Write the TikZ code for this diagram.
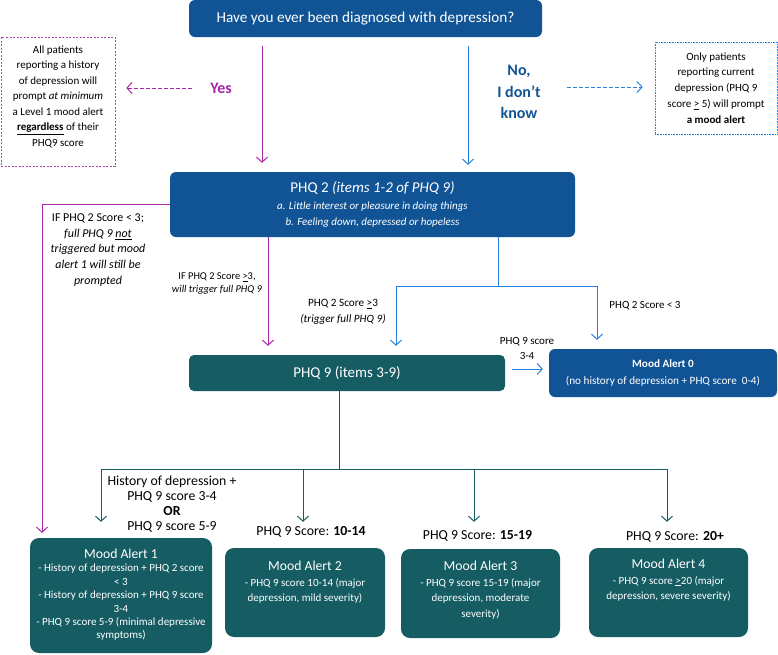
\documentclass[tikz,border=0pt]{standalone}
\usepackage{fontspec}
\setmainfont{Carlito}
\usetikzlibrary{arrows.meta, positioning}
\definecolor{qblue}{RGB}{17,84,150}
\definecolor{qteal}{RGB}{22,92,99}
\definecolor{qmagenta}{RGB}{166,38,164}
\definecolor{qlight}{RGB}{40,128,220}
\newcommand{\fs}[2]{\fontsize{#1}{#2}\selectfont}
\tikzset{
    bluebox/.style = {rectangle, fill=qblue, rounded corners=0.6em, text=white, inner sep=0em},
    tealbox/.style = {rectangle, fill=qteal, rounded corners=0.9em, text=white, inner sep=0em},
    notebox/.style = {rectangle, line width=0.7pt, inner sep=0em},
    textnode/.style = {draw=none, fill=none, rectangle, inner sep=0em},
    yesline/.style = {qmagenta, line width=1pt, -{Straight Barb[length=5pt,width=11pt]}},
    noline/.style = {qlight, line width=1pt, -{Straight Barb[length=5pt,width=11pt]}},
    tealline/.style = {qteal, line width=1pt, -{Straight Barb[length=5pt,width=11pt]}},
    every text node part/.style={align=center}
}

\begin{document}
\begin{tikzpicture}[x=1pt, y=-1pt]
\useasboundingbox (0,0) rectangle (778,654);

\node [bluebox, name=Question, minimum width=353pt, minimum height=37pt, font=\fs{15.2}{18}] at (365.5,18.5)
{Have you ever been diagnosed with depression?};

\node [notebox, name=LeftNote, draw=qmagenta!85, dash pattern=on 2pt off 1.5pt, minimum width=114pt, minimum height=129pt] at (58,101.5) {};
\node [textnode, name=LeftText, font=\fs{11}{15.5}] at ([yshift=5pt]LeftNote.center)
{All patients\\reporting a history\\of depression will\\prompt \textit{at minimum}\\a Level 1 mood alert\\\textbf{\underline{regardless}} of their\\PHQ9 score};

\node [notebox, name=RightNote, draw=qlight, dash pattern=on 0.8pt off 0.8pt, minimum width=122pt, minimum height=92pt, font=\fs{11}{15.8}] at (716,88)
{Only patients\\reporting current\\depression (PHQ 9\\score \underline{>} 5) will prompt\\\textbf{a mood alert}};

\node [textnode, name=Yes, text=qmagenta, font=\bfseries\fs{16}{18}] at (221,88) {Yes};
\node [textnode, name=NoLabel, text=qblue, font=\bfseries\fs{16}{21.5}, align=left] at (519,92) {No,\\I don’t\\know};

\node [bluebox, name=PHQ2, minimum width=405pt, minimum height=65pt, font=\itshape\fs{11}{16.5}] at (372.5,204.5)
{{\upshape\fs{15}{17}PHQ 2 \textit{(items 1-2 of PHQ 9)}}\\a. Little interest or pleasure in doing things\\b. Feeling down, depressed or hopeless};

\node [tealbox, name=PHQ9, minimum width=316pt, minimum height=36pt, rounded corners=0.5em, font=\fs{15}{17}] at (347,373)
{PHQ 9 (items 3-9)};
\node [bluebox, name=Alert0, minimum width=228pt, minimum height=48pt, font=\fs{11.2}{17}] at (663,373)
{\textbf{Mood Alert 0}\\(no history of depression + PHQ score\ \ 0-4)};

\draw[yesline, shorten <=9pt, shorten >=9pt] ([xshift=-103.5pt]Question.south) -- ([xshift=-103.5pt]Question.south |- PHQ2.north);
\draw[noline, shorten <=9pt, shorten >=7pt] ([xshift=102.5pt]Question.south) -- ([xshift=102.5pt]Question.south |- PHQ2.north);
\draw[yesline, dash pattern=on 4pt off 2pt, shorten <=18pt, shorten >=11pt] (Yes.west) -- (Yes.west -| LeftNote.east);
\draw[noline, dash pattern=on 4pt off 2pt, shorten <=26pt, shorten >=12pt] ([yshift=5pt]NoLabel.east) -- ([yshift=5pt]NoLabel.east -| RightNote.west);

\node [textnode, name=IfLow, font=\fs{12}{15.6}] at (98,250)
{IF PHQ 2 Score < 3;\\\textit{full PHQ 9 \underline{not}}\\\textit{triggered but mood}\\\textit{alert 1 will still be}\\\textit{prompted}};
\node [textnode, name=IfHigh, font=\fs{10.4}{13}] at (217,284)
{IF PHQ 2 Score \underline{>}3,\\\textit{will trigger full PHQ 9}};
\node [textnode, name=HighScore, font=\fs{11.2}{16}] at (343,312)
{PHQ 2 Score \underline{>}3\\\textit{(trigger full PHQ 9)}};
\node [textnode, name=LowScore, font=\fs{11}{12}] at (645,306) {PHQ 2 Score < 3};
\node [textnode, name=LowNine, font=\fs{11}{15}] at (527,348) {PHQ 9 score\\3-4};

\node [tealbox, name=Alert1, minimum width=182pt, minimum height=115pt] at (121,595.5) {};
\node [tealbox, name=Alert2, minimum width=160pt, minimum height=89pt] at (305,592.5) {};
\node [tealbox, name=Alert3, minimum width=159pt, minimum height=89pt] at (480.5,593.5) {};
\node [tealbox, name=Alert4, minimum width=159pt, minimum height=89pt] at (668.5,592.5) {};

\node [textnode, name=Alert1Text, text=white, font=\fs{11}{13.4}, below=11pt of Alert1.north]
{{\fs{13.7}{15}Mood Alert 1}\\- History of depression + PHQ 2 score\\< 3\\- History of depression + PHQ 9 score\\3-4\\- PHQ 9 score 5-9 (minimal depressive\\symptoms)};
\node [textnode, name=Alert2Text, text=white, font=\fs{11}{15.5}, below=13pt of Alert2.north]
{{\fs{13.7}{17}Mood Alert 2}\\- PHQ 9 score 10-14 (major\\depression, mild severity)};
\node [textnode, name=Alert3Text, text=white, font=\fs{11}{15.5}, below=12pt of Alert3.north]
{{\fs{13.7}{17}Mood Alert 3}\\- PHQ 9 score 15-19 (major\\depression, moderate\\severity)};
\node [textnode, name=Alert4Text, text=white, font=\fs{11}{15.5}, below=11pt of Alert4.north]
{{\fs{13.7}{17}Mood Alert 4}\\- PHQ 9 score \underline{>}20 (major\\depression, severe severity)};

\node [textnode, name=HistNine, font=\fs{13.8}{15}] at (172,504)
{History of depression +\\PHQ 9 score 3-4\\\textbf{OR}\\PHQ 9 score 5-9};
\node [textnode, name=Score10, font=\fs{13.8}{15}] at (311,532) {PHQ 9 Score: \textbf{10-14}};
\node [textnode, name=Score15, font=\fs{13.8}{15}] at (477.5,536) {PHQ 9 Score: \textbf{15-19}};
\node [textnode, name=Score20, font=\fs{13.8}{15}] at (675,537) {PHQ 9 Score: \textbf{20+}};

\draw[yesline] (PHQ2.west) -| ([xshift=-79pt,yshift=5pt]Alert1.north);
\draw[yesline, shorten >=9pt] ([xshift=-104.5pt]PHQ2.south) -- ([xshift=-104.5pt]PHQ2.south |- PHQ9.north);

\draw[qlight, line width=1pt] ([xshift=125.5pt]PHQ2.south) -- ++(0,49) coordinate (Split);
\draw[noline, shorten >=9pt] (Split) -| ([xshift=49pt]PHQ9.north);
\draw[noline, shorten >=9pt] (Split) -| ([xshift=-66pt]Alert0.north);
\draw[noline, shorten <=7pt, shorten >=6pt] ([yshift=4pt]PHQ9.east) -- ([yshift=4pt]PHQ9.east -| Alert0.west);

\draw[qteal, line width=1pt] ([xshift=-8pt]PHQ9.south) -- ++(0,78) coordinate (Fork);
\draw[tealline, shorten >=16pt] (Fork) -| ([xshift=-20pt]Alert1.north);
\draw[tealline, shorten >=26pt] (Fork) -| ([xshift=-2pt]Alert2.north);
\draw[tealline, shorten >=27pt] (Fork) -| ([xshift=-6.5pt]Alert3.north);
\draw[tealline, shorten >=26pt] (Fork) -| ([xshift=-1.5pt]Alert4.north);
\end{tikzpicture}
\end{document}
